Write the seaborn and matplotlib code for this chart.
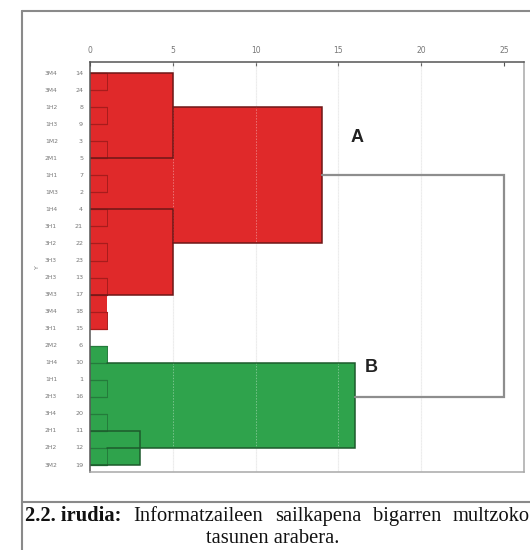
import matplotlib
matplotlib.use("Agg")
import matplotlib.pyplot as plt
import matplotlib.transforms as mtransforms
from matplotlib.lines import Line2D
import seaborn as sns

# Leaf order of the dendrogram (top to bottom)
case_codes = ["3M4", "3M4", "1H2", "1H3", "1M2", "2M1", "1H1", "1M3", "1H4", "3H1",
              "3H2", "3H3", "2H3", "3M3", "3M4", "3H1", "2M2", "1H4", "1H1", "2H3",
              "3H4", "2H1", "2H2", "3M2"]
case_numbers = [14, 24, 8, 9, 3, 5, 7, 2, 4, 21, 22, 23, 13, 17, 18, 15,
                6, 10, 1, 16, 20, 11, 12, 19]
leaf_group = ["A"] * 16 + ["B"] * 8
axis_ticks = [0, 5, 10, 15, 20, 25]

# Shaded cluster areas: group, first leaf row, last leaf row, lower level, upper level
area_group = ["A", "A", "A", "B", "B", "B"]
area_first = [0, 0, 2, 16, 17, 21]
area_last = [15, 13, 10, 23, 22, 23]
area_low = [0, 1, 5, 0, 1, 1]
area_high = [1, 5, 14, 1, 16, 3]

# Joins: upper row, lower row, join level, start level of upper / lower branch
join_first = [0, 2, 4, 6, 8, 10, 12, 14, 0, 8, 2, 16, 18, 20, 22, 21, 17, 6]
join_last = [1, 3, 5, 7, 9, 11, 13, 15, 5, 13, 10, 17, 19, 21, 23, 23, 22, 19]
join_level = [1, 1, 1, 1, 1, 1, 1, 1, 5, 5, 14, 1, 1, 1, 1, 3, 16, 25]
join_from_top = [0] * 8 + [0, 0, 5] + [0, 0, 0, 0] + [0, 1, 14]
join_from_bottom = [0] * 8 + [0, 0, 5] + [0, 0, 0, 0] + [0, 1, 16]
join_group = ["A"] * 11 + ["B"] * 6 + ["all"]

caption_bold = "2.2. irudia:"
caption_line1 = "Informatzaileen sailkapena bigarren multzoko"
caption_line2 = "tasunen arabera."

fill_colors = {"A": "#e0292a", "B": "#2fa34c"}
edge_colors = {"A": "#6e1717", "B": "#1d5a2c", "all": "#8e8e8e"}
stub_colors = {"A": "#a81c1c", "B": "#247b3b"}

sns.set_theme(style="white")
plt.rcParams["font.family"] = ["DejaVu Sans"]

W, H = 530, 550
fig = plt.figure(figsize=(W / 100, H / 100), dpi=100)
fig.patch.set_facecolor("white")

# plot box in pixels: left 90, right 524, top 62, bottom 472
ax = fig.add_axes([90 / W, 1 - 472 / H, (524 - 90) / W, (472 - 62) / H])
ax.set_xlim(0, 26.2)
ax.set_ylim(23.41, -0.65)

# faint reference lines
for t in axis_ticks[1:-1]:
    ax.axvline(t, color="#ececec", lw=0.8, zorder=0.5)

# cluster shading
for g, f, l, lo, hi in zip(area_group, area_first, area_last, area_low, area_high):
    ax.fill_betweenx([f, l], lo, hi, color=fill_colors[g], lw=0, zorder=1)

# reference lines seen through the shading
for t in axis_ticks[1:-1]:
    ax.axvline(t, color="white", lw=0.7, alpha=0.35, ls=(0, (1.5, 1.5)), zorder=1.5)

# leaf stubs
for i, g in enumerate(leaf_group):
    ax.plot([0, 1], [i, i], color=stub_colors[g], lw=0.9, zorder=2)

# joins
for f, l, lev, ft, fb, g in zip(join_first, join_last, join_level,
                                join_from_top, join_from_bottom, join_group):
    if g == "all":
        color, lw = edge_colors[g], 1.6
    elif lev <= 1:
        color, lw = stub_colors[g], 0.7
    else:
        color, lw = edge_colors[g], 1.1
    ax.plot([ft, lev, lev, fb], [f, f, l, l], color=color, lw=lw,
            zorder=2.5, solid_joinstyle="miter")

# cluster letters
ax.text(16.1, 3.8, "A", fontsize=13, color="#222222", ha="center", va="center",
        fontweight="bold", family=["Liberation Sans", "DejaVu Sans"])
ax.text(17.0, 17.3, "B", fontsize=13, color="#222222", ha="center", va="center",
        fontweight="bold", family=["Liberation Sans", "DejaVu Sans"])

# top distance axis
ax.xaxis.tick_top()
ax.set_xticks(axis_ticks)
ax.set_xticklabels([str(t) for t in axis_ticks])
ax.tick_params(axis="x", direction="in", length=3, width=0.8, color="#555555",
               labelsize=5.5, labelcolor="#777777", pad=5, top=True, bottom=False)
ax.set_yticks([])
for side in ["top", "left"]:
    ax.spines[side].set_color("#555555")
    ax.spines[side].set_linewidth(1.1)
for side in ["right", "bottom"]:
    ax.spines[side].set_color("#a8a8a8")
    ax.spines[side].set_linewidth(1.1)

# leaf labels
trans = mtransforms.blended_transform_factory(ax.transAxes, ax.transData)
for i, (code, num) in enumerate(zip(case_codes, case_numbers)):
    ax.text(-0.104, i, code, transform=trans, fontsize=4.3, color="#777777",
            ha="left", va="center")
    ax.text(-0.016, i, str(num), transform=trans, fontsize=4.6, color="#777777",
            ha="right", va="center")
fig.text(37 / W, 1 - 267 / H, "Y", fontsize=4.5, color="#777777", rotation=90,
         ha="center", va="center")

# outer frame and caption separator
frame_kw = dict(color="#8a8a8a", lw=1.5, transform=fig.transFigure)
fig.add_artist(Line2D([22 / W, 22 / W], [0, 1 - 11 / H], **frame_kw))
fig.add_artist(Line2D([22 / W, 1], [1 - 11 / H, 1 - 11 / H], **frame_kw))
fig.add_artist(Line2D([22 / W, 1], [1 - 502 / H, 1 - 502 / H], **frame_kw))

# caption: first line justified between x=25 and x=530 px
serif = ["Liberation Serif", "DejaVu Serif"]
cap_size = 14.8
y1 = 1 - 521 / H
renderer = fig.canvas.get_renderer()
pieces = [(caption_bold, "bold")] + [(w, "normal") for w in caption_line1.split()]
texts = []
for word, weight in pieces:
    t = fig.text(0, y1, word, fontsize=cap_size, fontweight=weight, family=serif,
                 color="#111111", ha="left", va="baseline")
    texts.append(t)
widths = [t.get_window_extent(renderer=renderer).width for t in texts]
left_px, right_px = 25, 530
gap = (right_px - left_px - sum(widths)) / (len(texts) - 1)
x = left_px
for t, w in zip(texts, widths):
    t.set_x(x / W)
    x += w + gap
fig.text(273 / W, 1 - 543 / H, caption_line2, fontsize=cap_size, family=serif,
         color="#111111", ha="center", va="baseline")

fig.savefig("out.png", dpi=100)
